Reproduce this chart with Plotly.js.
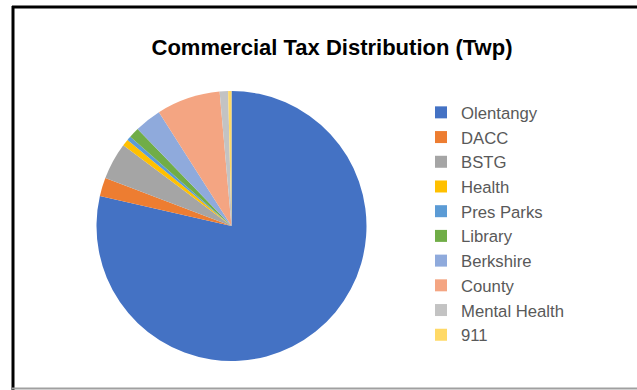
<!DOCTYPE html>
<html>
<head>
<meta charset="utf-8">
<script src="https://cdn.plot.ly/plotly-3.0.1.min.js"></script>
<style>
  html, body { margin: 0; padding: 0; background: #ffffff; }
  #chart { width: 637px; height: 390px; }
</style>
</head>
<body>
<div id="chart"></div>
<script>
const categories = ["Olentangy", "DACC", "BSTG", "Health", "Pres Parks", "Library", "Berkshire", "County", "Mental Health", "911"];
const shares = [78.3, 2.2, 4.4, 0.8, 0.5, 1.25, 3.2, 7.6, 1.0, 0.4];
const sliceColors = ["#4472C4", "#ED7D31", "#A5A5A5", "#FFC000", "#5B9BD5", "#70AD47", "#8FAADC", "#F4A582", "#C3C3C3", "#FFD966"];
const chartTitle = "Commercial Tax Distribution (Twp)";

const W = 637, H = 390;
const cx = 231.5, cy = 226, r = 135;

const trace = {
  type: "pie",
  labels: categories,
  values: shares,
  sort: false,
  direction: "clockwise",
  rotation: 0,
  textinfo: "none",
  hoverinfo: "label+percent",
  marker: { colors: sliceColors, line: { width: 0 } },
  domain: {
    x: [(cx - r) / W, (cx + r) / W],
    y: [(H - cy - r) / H, (H - cy + r) / H]
  }
};

const layout = {
  width: W,
  height: H,
  margin: { l: 0, r: 0, t: 0, b: 0 },
  paper_bgcolor: "#ffffff",
  plot_bgcolor: "#ffffff",
  title: {
    text: "<b>" + chartTitle + "</b>",
    x: 332 / W,
    xanchor: "center",
    y: 1 - 47 / H,
    yanchor: "middle",
    font: { family: "Liberation Sans, Arial, sans-serif", size: 22, color: "#000000" }
  },
  showlegend: true,
  legend: {
    x: 421 / W,
    xanchor: "left",
    y: 1 - 95 / H,
    yanchor: "top",
    font: { family: "Liberation Sans, Arial, sans-serif", size: 16.7, color: "#595959" },
    bgcolor: "rgba(0,0,0,0)",
    traceorder: "normal",
    itemwidth: 30
  },
  shapes: [
    { type: "line", xref: "paper", yref: "paper", x0: 13 / W, x1: 13 / W, y0: 0, y1: 1 - 6 / H, line: { color: "#000000", width: 3 } },
    { type: "line", xref: "paper", yref: "paper", x0: 12 / W, x1: 1, y0: 1 - 7 / H, y1: 1 - 7 / H, line: { color: "#000000", width: 3 } },
    { type: "line", xref: "paper", yref: "paper", x0: 12 / W, x1: 1, y0: 1 - 388.5 / H, y1: 1 - 388.5 / H, line: { color: "#a0a0a0", width: 2 } }
  ]
};

Plotly.newPlot("chart", [trace], layout, { displayModeBar: false, staticPlot: true });
</script>
</body>
</html>
